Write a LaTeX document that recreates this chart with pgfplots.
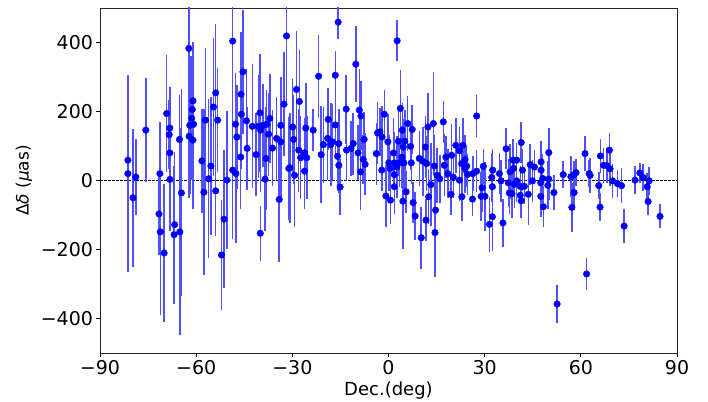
\documentclass[border=0pt]{standalone}
\usepackage{fontspec}
\setmainfont{DejaVu Sans}
\usepackage{pgfplots}
\usepackage{pgfplotstable}
\pgfplotsset{compat=1.18}
\definecolor{barblue}{RGB}{80,80,255}

% Dec (deg), Delta delta (uas), error (uas)
\pgfplotstableread{
x y e
-81.3 59 70
-81.3 20 285
-79.7 -50 200
-78.8 10 110
-75.7 146 150
-71.3 20 150
-71.6 -97 120
-71.2 -149 240
-70.0 -210 200
-69.2 194 170
-68.2 152 120
-68.4 133 100
-68.2 80 110
-68.2 3 150
-66.7 -128 210
-66.9 -157 200
-65.1 -149 300
-64.6 -36 300
-65.2 119 130
-62.3 383 150
-62.2 128 180
-62.0 160 200
-61.4 180 180
-61.2 206 150
-61.0 231 170
-60.8 163 150
-61.0 117 200
-58.2 57 150
-57.1 175 210
-57.6 -34 240
-55.4 42 200
-56.1 5 230
-54.6 213 200
-53.9 254 200
-53.3 175 150
-53.9 -30 130
-52.1 -216 160
-51.3 -112 200
-50.4 1 200
-48.6 404 200
-47.7 163 150
-47.3 126 150
-48.6 30 200
-47.6 20 200
-46.0 250 180
-45.9 192 160
-45.4 315 180
-46.1 68 150
-44.1 93 120
-44.3 173 150
-42.5 157 180
-41.3 75 120
-40.6 157 150
-40.1 196 170
-39.9 146 180
-40.0 -153 80
-39.1 160 120
-38.0 163 100
-37.4 134 120
-37.0 180 130
-38.2 64 150
-36.2 94 110
-38.5 4 150
-34.9 122 120
-33.6 112 160
-33.6 160 140
-32.6 221 150
-31.8 419 200
-34.1 -55 180
-31.1 35 150
-28.7 264 170
-27.8 229 150
-29.9 155 140
-29.6 119 130
-28.0 88 120
-27.4 66 120
-26.2 80 100
-25.5 66 120
-25.8 152 130
-30.8 37 160
-29.3 15 150
-26.2 27 110
-23.5 146 60
-21.8 302 120
-20.3 104 110
-21.0 75 140
-19.0 122 120
-18.8 177 90
-18.0 104 120
-17.5 112 110
-16.6 305 70
-16.6 161 90
-15.7 459 50
-15.9 70 100
-15.5 44 80
-15.5 107 100
-15.1 -19 80
-13.2 207 100
-13.1 88 90
-11.7 93 80
-10.2 337 110
-11.0 107 90
-9.1 204 120
-8.6 187 100
-9.5 80 80
-7.6 119 80
-7.9 61 70
-7.3 47 90
-8.7 25 110
-3.8 78 90
-3.4 138 90
-2.7 141 70
-2.0 126 90
-1.3 192 70
-2.1 30 60
-0.8 -45 90
0.6 -57 70
-0.2 112 80
0.1 51 80
1.6 80 100
1.8 51 90
2.7 405 60
3.1 114 100
3.7 209 110
3.4 51 70
4.3 146 80
4.6 97 80
5.1 114 90
4.8 51 90
1.8 17 70
1.8 -18 80
4.5 -60 140
5.5 -33 60
6.0 165 80
6.9 99 70
7.4 148 70
7.1 51 60
7.7 -64 60
8.3 -103 70
10.2 -166 90
9.6 64 80
10.7 56 100
11.5 97 90
12.3 155 100
14.0 165 150
11.7 -115 60
12.5 -47 80
14.5 -151 130
14.7 -86 100
13.2 -12 120
14.3 42 90
15.2 15 80
17.1 170 60
17.4 44 90
16.0 5 70
19.5 -40 60
22.9 -47 70
26.2 -54 50
21.0 102 80
22.1 86 70
23.2 102 80
19.7 73 90
23.9 61 70
27.5 187 60
24.4 42 60
20.2 10 60
26.3 20 50
24.7 18 60
22.1 1 60
18.5 20 70
29.6 41 50
27.5 27 60
29.2 -21 70
28.9 -46 70
30.1 -46 100
31.5 -127 80
32.4 -105 100
32.4 -18 80
32.2 9 70
32.5 30 60
34.6 20 60
35.1 -1 60
35.7 -123 70
36.7 92 60
37.4 -7 70
37.7 -36 60
38.5 -38 70
37.9 25 80
38.8 59 60
39.0 35 80
39.3 -11 70
40.0 59 50
41.4 110 60
40.0 -1 60
41.1 -17 60
41.1 -43 60
41.4 -59 50
41.8 30 60
42.4 -17 50
43.6 -40 90
44.2 46 60
44.9 -1 60
45.5 39 50
47.6 54 60
47.6 30 60
47.5 -7 60
48.1 6 70
47.5 -46 60
48.3 -76 60
50.0 81 70
49.7 -14 70
50.0 4 60
51.6 -35 50
52.6 -358 55
54.5 17 40
56.9 11 60
57.2 -78 70
57.9 17 40
58.5 23 40
57.9 -35 50
61.3 78 50
61.8 -271 45
62.6 20 40
62.9 15 50
65.6 -15 40
66.0 -77 40
66.1 71 50
67.1 44 50
68.1 43 50
68.9 88 50
69.1 34 50
69.9 -1 50
71.4 -9 40
72.7 -15 50
73.5 -132 50
76.9 1 40
78.4 22 30
79.4 9 40
80.7 -18 40
81.0 -61 40
81.3 -1 40
84.7 -104 35
11.9 49 80
17.9 68 60
22.8 49 60
23.9 35 70
0.5 35 50
4.2 68 90
2.6 39 90
}\decdata

\begin{document}
\begin{tikzpicture}
\useasboundingbox (-100pt,-48pt) rectangle (608pt,353pt);
\begin{axis}[
    scale only axis,
    width=577pt, height=345pt,
    xmin=-90, xmax=90, ymin=-500, ymax=500,
    xtick={-90,-60,-30,0,30,60,90},
    xticklabels={−90,−60,−30,0,30,60,90},
    ytick={-400,-200,0,200,400},
    yticklabels={−400,−200,0,200,400},
    tick align=outside,
    major tick length=3.5pt,
    tick style={black, line width=0.8pt},
    xtick pos=bottom, ytick pos=left,
    axis line style={black!85, line width=0.9pt},
    tick label style={font=\fontsize{19}{19}\selectfont},
    xlabel style={font=\fontsize{18}{18}\selectfont, at={(axis description cs:0.5,-0.108)}, anchor=center},
    ylabel style={font=\fontsize{17}{17}\selectfont, at={(axis description cs:-0.132,0.5)}, anchor=center},
    xlabel={Dec.(deg)},
    ylabel={Δ\textit{δ} (\textit{μ}as)},
    clip=true,
]
\addplot[black, line width=0.8pt, dash pattern=on 2.8pt off 1.2pt]
    coordinates {(-90,0) (90,0)};
\addplot[only marks, mark=*, mark size=3.3pt, draw=blue, fill=blue,
    error bars/.cd, y dir=both, y explicit, error mark=none,
    error bar style={draw=barblue, line width=1.5pt}]
    table[x=x, y=y, y error=e] {\decdata};
\end{axis}
\end{tikzpicture}
\end{document}
